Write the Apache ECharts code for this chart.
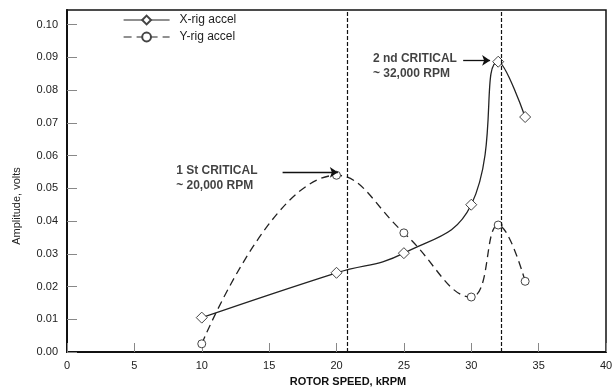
<!DOCTYPE html>
<html>
<head>
<meta charset="utf-8">
<script src="https://cdn.jsdelivr.net/npm/echarts@6/dist/echarts.min.js"></script>
<style>html,body{margin:0;padding:0;background:#fff;}#c{width:612px;height:389px;}</style>
</head>
<body>
<div id="c"></div>
<script>
// ---- data ----
var xRigSpeed = [10, 20, 25, 30, 32, 34];
var xRigAmp   = [0.0105, 0.0242, 0.0302, 0.0450, 0.0887, 0.0718];
var yRigSpeed = [10, 20, 25, 30, 32, 34];
var yRigAmp   = [0.0025, 0.0540, 0.0364, 0.0168, 0.0388, 0.0216];
var seriesNames = ['X-rig accel', 'Y-rig accel'];
var criticalSpeeds = [20.8, 32.2];
var annotationTexts = ['1 St CRITICAL\n~ 20,000 RPM', '2 nd CRITICAL\n~ 32,000 RPM'];
var annotationAnchors = [[8.1, 0.0578], [22.7, 0.0920]];
var arrowStarts = [[16.0, 0.0549], [29.4, 0.0891]];
var arrowEnds   = [[20.1, 0.0549], [31.4, 0.0891]];
var xTickMin = 0, xTickMax = 40, xTickStep = 5;
var yTickMin = 0, yTickStep = 0.01, yAxisTop = 0.1045;

function zip(a, b) { return a.map(function (v, i) { return [v, b[i]]; }); }

var chart = echarts.init(document.getElementById('c'), null, {renderer: 'canvas'});
var FONT = 'Liberation Sans, Arial, sans-serif';

var option = {
  animation: false,
  backgroundColor: '#fff',
  grid: {left: 67, right: 6, top: 10, bottom: 37, containLabel: false, outerBoundsMode: 'none',
    show: true, borderColor: '#111', borderWidth: 1.5, backgroundColor: 'transparent'},
  legend: {
    data: seriesNames,
    orient: 'vertical',
    left: 118, top: 9,
    itemWidth: 46, itemHeight: 11, itemGap: 5,
    lineStyle: {width: 1.2},
    textStyle: {fontFamily: FONT, fontSize: 12, color: '#222', padding: [0, 0, 0, 5]}
  },
  xAxis: {
    type: 'value', min: xTickMin, max: xTickMax, interval: xTickStep,
    name: 'ROTOR SPEED, kRPM', nameLocation: 'middle', nameGap: 24,
    nameTextStyle: {fontFamily: FONT, fontSize: 11, fontWeight: 'bold', color: '#111', padding: [0, 0, 0, 23]},
    axisLine: {lineStyle: {color: '#111', width: 2}},
    axisTick: {inside: true, length: 9, lineStyle: {color: '#888', width: 1}},
    axisLabel: {fontFamily: FONT, fontSize: 11, color: '#222', margin: 8},
    splitLine: {show: false}
  },
  yAxis: {
    type: 'value', min: yTickMin, max: yAxisTop, interval: yTickStep,
    axisLine: {show: true, lineStyle: {color: '#111', width: 2}},
    axisTick: {show: true, inside: true, length: 10, lineStyle: {color: '#888', width: 1}},
    axisLabel: {fontFamily: FONT, fontSize: 11, color: '#222', margin: 9, showMaxLabel: false,
      formatter: function (v) { return v.toFixed(2); }},
    splitLine: {show: false}
  },
  graphic: [{
    type: 'text', x: 17, y: 206, rotation: Math.PI / 2,
    style: {text: 'Amplitude, volts', font: '11px ' + FONT, fill: '#222', align: 'center', verticalAlign: 'middle'}
  }],
  series: [
    {
      name: seriesNames[0], type: 'line', smooth: 0.45,
      data: zip(xRigSpeed, xRigAmp),
      symbol: 'diamond', symbolSize: [11, 11],
      lineStyle: {color: '#222', width: 1.3, type: 'solid'},
      itemStyle: {color: '#fff', borderColor: '#444', borderWidth: 1},
      z: 3
    },
    {
      name: seriesNames[1], type: 'line', smooth: 0.45,
      data: zip(yRigSpeed, yRigAmp),
      symbol: 'circle', symbolSize: 8,
      lineStyle: {color: '#222', width: 1.3, type: [8, 5]},
      itemStyle: {color: '#fff', borderColor: '#444', borderWidth: 1},
      z: 3
    },
    {
      name: 'guides', type: 'line', data: [], silent: true,
      markLine: {
        silent: true, symbol: 'none', animation: false,
        label: {show: false},
        lineStyle: {color: '#111', width: 1.2, type: [4, 2]},
        data: criticalSpeeds.map(function (s) { return {xAxis: s}; })
      }
    },
    {
      name: 'arrows', type: 'line', data: [], silent: true,
      markLine: {
        silent: true, symbol: ['none', 'arrow'], symbolSize: 8, animation: false,
        label: {show: false},
        lineStyle: {color: '#111', width: 1.3, type: 'solid'},
        data: arrowStarts.map(function (s, i) { return [{coord: s}, {coord: arrowEnds[i]}]; })
      }
    },
    {
      name: 'annotations', type: 'scatter', symbolSize: 0, silent: true,
      data: annotationAnchors.map(function (a, i) { return {value: a, txt: annotationTexts[i]}; }),
      label: {
        show: true, position: [0, 0], align: 'left', verticalAlign: 'top',
        fontFamily: FONT, fontSize: 12, fontWeight: 'bold', color: '#111', lineHeight: 15,
        formatter: function (p) { return p.data.txt; }
      }
    }
  ]
};
chart.setOption(option);
</script>
</body>
</html>
